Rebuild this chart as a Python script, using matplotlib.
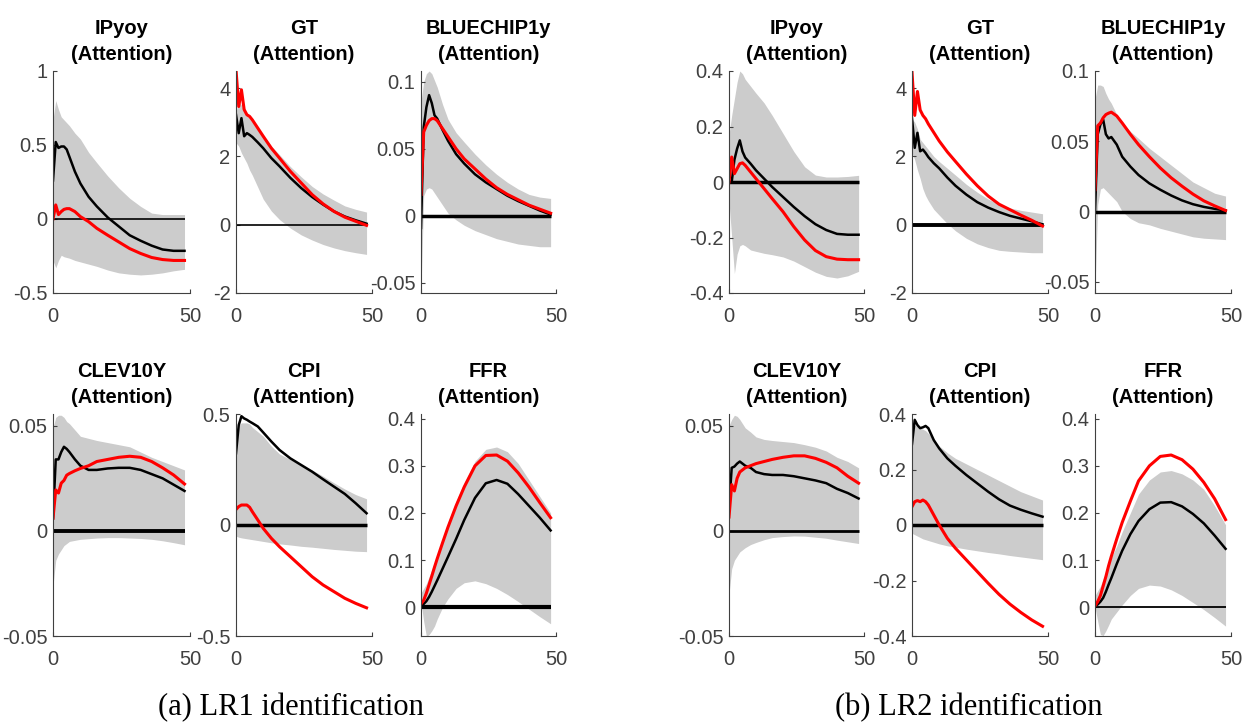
import numpy as np
import matplotlib.pyplot as plt

plt.rcParams['font.family'] = ['Liberation Sans Narrow', 'DejaVu Sans Condensed', 'Liberation Sans', 'DejaVu Sans']

# horizons used for every series
h = [0, 1, 2, 3, 4, 5, 6, 8, 10, 13, 16, 20, 24, 28, 32, 36, 40, 44, 48]

# ---------------- (a) LR1 identification ----------------
a_ipyoy_hi = [0.67, 0.8, 0.74, 0.69, 0.67, 0.65, 0.63, 0.58, 0.54, 0.45, 0.38, 0.29, 0.21, 0.14, 0.085, 0.04, 0.03, 0.03, 0.03]
a_ipyoy_lo = [-0.28, -0.33, -0.28, -0.245, -0.255, -0.26, -0.265, -0.28, -0.29, -0.305, -0.32, -0.345, -0.364, -0.373, -0.378, -0.373, -0.364, -0.35, -0.34]
a_ipyoy_k = [0.26, 0.52, 0.48, 0.49, 0.49, 0.47, 0.42, 0.32, 0.24, 0.15, 0.085, 0.01, -0.05, -0.11, -0.147, -0.18, -0.206, -0.215, -0.215]
a_ipyoy_r = [0.0, 0.095, 0.03, 0.05, 0.065, 0.07, 0.07, 0.05, 0.016, -0.018, -0.063, -0.11, -0.155, -0.2, -0.233, -0.26, -0.274, -0.28, -0.28]

a_gt_hi = [3.3, 3.6, 3.5, 3.3, 3.2, 3.1, 3.0, 2.8, 2.6, 2.3, 2.05, 1.7, 1.4, 1.12, 0.9, 0.72, 0.55, 0.45, 0.37]
a_gt_lo = [2.4, 2.3, 2.1, 1.95, 1.8, 1.6, 1.45, 1.1, 0.75, 0.4, 0.15, -0.1, -0.3, -0.45, -0.58, -0.68, -0.76, -0.82, -0.87]
a_gt_k = [3.22, 2.68, 3.12, 2.59, 2.68, 2.63, 2.57, 2.41, 2.24, 1.95, 1.71, 1.37, 1.07, 0.81, 0.59, 0.39, 0.24, 0.13, 0.03]
a_gt_r = [4.54, 3.46, 3.95, 3.37, 3.22, 3.17, 3.07, 2.83, 2.59, 2.24, 1.95, 1.56, 1.22, 0.88, 0.61, 0.39, 0.22, 0.1, -0.02]

a_blue_hi = [0.085, 0.1, 0.106, 0.108, 0.106, 0.101, 0.096, 0.083, 0.072, 0.062, 0.055, 0.046, 0.038, 0.031, 0.025, 0.02, 0.016, 0.014, 0.013]
a_blue_lo = [-0.055, 0.015, 0.02, 0.021, 0.02, 0.017, 0.014, 0.008, 0.002, -0.003, -0.007, -0.011, -0.014, -0.017, -0.019, -0.021, -0.022, -0.023, -0.023]
a_blue_k = [-0.009, 0.066, 0.081, 0.09, 0.084, 0.075, 0.0725, 0.064, 0.056, 0.046, 0.039, 0.031, 0.025, 0.02, 0.015, 0.011, 0.0075, 0.004, 0.001]
a_blue_r = [0.016, 0.0625, 0.0675, 0.071, 0.0725, 0.0725, 0.071, 0.065, 0.059, 0.05, 0.0425, 0.035, 0.0275, 0.021, 0.016, 0.012, 0.008, 0.005, 0.002]

a_clev_hi = [0.049, 0.054, 0.055, 0.055, 0.054, 0.052, 0.051, 0.048, 0.045, 0.044, 0.043, 0.042, 0.041, 0.04, 0.0375, 0.035, 0.033, 0.031, 0.029]
a_clev_lo = [-0.026, -0.014, -0.011, -0.009, -0.007, -0.006, -0.005, -0.0045, -0.004, -0.0037, -0.0034, -0.0032, -0.0032, -0.0034, -0.0036, -0.004, -0.0047, -0.0056, -0.0066]
a_clev_k = [0.006, 0.034, 0.034, 0.0375, 0.04, 0.039, 0.0375, 0.034, 0.031, 0.029, 0.029, 0.0297, 0.03, 0.03, 0.029, 0.027, 0.025, 0.022, 0.019]
a_clev_r = [0.006, 0.0195, 0.018, 0.0227, 0.024, 0.0265, 0.0273, 0.0286, 0.0297, 0.031, 0.033, 0.034, 0.035, 0.0355, 0.035, 0.033, 0.03, 0.0266, 0.0223]

a_cpi_hi = [0.4, 0.45, 0.46, 0.46, 0.46, 0.455, 0.44, 0.42, 0.4, 0.355, 0.32, 0.295, 0.27, 0.248, 0.22, 0.19, 0.162, 0.137, 0.118]
a_cpi_lo = [-0.05, -0.055, -0.058, -0.06, -0.062, -0.064, -0.066, -0.07, -0.074, -0.08, -0.085, -0.09, -0.096, -0.1, -0.105, -0.11, -0.114, -0.118, -0.12]
a_cpi_k = [0.323, 0.45, 0.49, 0.48, 0.474, 0.466, 0.459, 0.444, 0.417, 0.376, 0.338, 0.3, 0.27, 0.24, 0.206, 0.173, 0.14, 0.098, 0.053]
a_cpi_r = [0.07, 0.083, 0.09, 0.09, 0.09, 0.08, 0.06, 0.023, -0.015, -0.06, -0.098, -0.143, -0.188, -0.233, -0.27, -0.3, -0.33, -0.353, -0.373]

a_ffr_hi = [0.03, 0.04, 0.05, 0.065, 0.08, 0.095, 0.11, 0.145, 0.18, 0.225, 0.265, 0.31, 0.335, 0.34, 0.33, 0.305, 0.27, 0.235, 0.2]
a_ffr_lo = [0.01, -0.03, -0.062, -0.058, -0.05, -0.04, -0.025, 0.0, 0.018, 0.04, 0.052, 0.056, 0.05, 0.04, 0.027, 0.012, -0.004, -0.02, -0.035]
a_ffr_k = [0.005, 0.007, 0.013, 0.022, 0.033, 0.045, 0.057, 0.082, 0.107, 0.145, 0.185, 0.232, 0.263, 0.27, 0.262, 0.24, 0.215, 0.19, 0.163]
a_ffr_r = [0.007, 0.015, 0.03, 0.048, 0.066, 0.085, 0.103, 0.137, 0.17, 0.215, 0.255, 0.3, 0.322, 0.323, 0.31, 0.285, 0.255, 0.222, 0.19]

# ---------------- (b) LR2 identification ----------------
b_ipyoy_hi = [0.17, 0.24, 0.3, 0.36, 0.4, 0.39, 0.37, 0.345, 0.32, 0.285, 0.24, 0.175, 0.11, 0.055, 0.025, 0.018, 0.018, 0.02, 0.024]
b_ipyoy_lo = [-0.07, -0.2, -0.33, -0.26, -0.23, -0.225, -0.23, -0.245, -0.25, -0.257, -0.262, -0.27, -0.285, -0.305, -0.325, -0.34, -0.346, -0.338, -0.322]
b_ipyoy_k = [0.0, 0.0, 0.08, 0.12, 0.15, 0.11, 0.088, 0.066, 0.042, 0.012, -0.018, -0.054, -0.09, -0.123, -0.152, -0.173, -0.187, -0.19, -0.19]
b_ipyoy_r = [0.0, 0.09, 0.03, 0.048, 0.066, 0.069, 0.06, 0.036, 0.012, -0.024, -0.06, -0.107, -0.161, -0.209, -0.247, -0.269, -0.278, -0.28, -0.28]

b_gt_hi = [3.1, 3.0, 2.8, 2.5, 2.4, 2.3, 2.2, 2.0, 1.85, 1.65, 1.45, 1.18, 0.95, 0.75, 0.6, 0.49, 0.42, 0.37, 0.32]
b_gt_lo = [2.1, 1.9, 1.6, 1.35, 1.05, 0.85, 0.7, 0.45, 0.28, 0.03, -0.18, -0.4, -0.56, -0.67, -0.75, -0.78, -0.8, -0.82, -0.82]
b_gt_k = [3.12, 2.25, 2.69, 2.15, 2.2, 2.1, 1.98, 1.8, 1.65, 1.38, 1.14, 0.88, 0.66, 0.5, 0.37, 0.26, 0.18, 0.1, 0.01]
b_gt_r = [4.47, 3.2, 3.9, 3.36, 3.2, 3.1, 2.95, 2.7, 2.45, 2.13, 1.85, 1.48, 1.14, 0.84, 0.6, 0.44, 0.28, 0.13, -0.04]

b_blue_hi = [0.08, 0.09, 0.09, 0.089, 0.084, 0.08, 0.077, 0.069, 0.063, 0.057, 0.052, 0.045, 0.039, 0.033, 0.027, 0.021, 0.017, 0.013, 0.011]
b_blue_lo = [-0.055, 0.005, 0.016, 0.017, 0.015, 0.013, 0.011, 0.007, 0.0, -0.005, -0.008, -0.0095, -0.012, -0.014, -0.016, -0.018, -0.019, -0.0195, -0.02]
b_blue_k = [0.0, 0.055, 0.062, 0.0655, 0.055, 0.052, 0.053, 0.0476, 0.039, 0.032, 0.026, 0.02, 0.0155, 0.0114, 0.0079, 0.0052, 0.0033, 0.0019, 0.0007]
b_blue_r = [0.0155, 0.061, 0.063, 0.0667, 0.069, 0.07, 0.0707, 0.068, 0.063, 0.055, 0.0476, 0.039, 0.031, 0.024, 0.018, 0.0124, 0.0076, 0.004, 0.0007]

b_clev_hi = [0.05, 0.053, 0.055, 0.0545, 0.053, 0.051, 0.049, 0.047, 0.0447, 0.0435, 0.043, 0.0425, 0.042, 0.041, 0.0398, 0.038, 0.035, 0.033, 0.03]
b_clev_lo = [-0.03, -0.018, -0.014, -0.012, -0.01, -0.009, -0.008, -0.0065, -0.0055, -0.0042, -0.0032, -0.0027, -0.0024, -0.0025, -0.003, -0.0035, -0.0044, -0.0052, -0.006]
b_clev_k = [0.011, 0.03, 0.0306, 0.032, 0.033, 0.032, 0.031, 0.03, 0.028, 0.027, 0.0266, 0.0266, 0.026, 0.025, 0.024, 0.0227, 0.02, 0.018, 0.0154]
b_clev_r = [0.0066, 0.022, 0.019, 0.025, 0.028, 0.029, 0.03, 0.031, 0.032, 0.033, 0.034, 0.035, 0.0357, 0.0357, 0.0345, 0.0326, 0.03, 0.026, 0.0227]

b_cpi_hi = [0.355, 0.36, 0.355, 0.35, 0.345, 0.34, 0.33, 0.31, 0.285, 0.26, 0.24, 0.22, 0.2, 0.18, 0.16, 0.14, 0.12, 0.105, 0.09]
b_cpi_lo = [-0.03, -0.035, -0.04, -0.045, -0.05, -0.053, -0.056, -0.062, -0.068, -0.075, -0.08, -0.087, -0.093, -0.099, -0.104, -0.11, -0.115, -0.12, -0.125]
b_cpi_k = [0.292, 0.379, 0.36, 0.349, 0.352, 0.357, 0.349, 0.306, 0.276, 0.24, 0.213, 0.18, 0.15, 0.12, 0.0925, 0.07, 0.055, 0.042, 0.03]
b_cpi_r = [0.066, 0.084, 0.088, 0.084, 0.09, 0.084, 0.072, 0.036, 0.0, -0.048, -0.084, -0.126, -0.168, -0.21, -0.25, -0.285, -0.315, -0.342, -0.365]

b_ffr_hi = [0.025, 0.035, 0.045, 0.06, 0.075, 0.09, 0.105, 0.13, 0.16, 0.2, 0.24, 0.27, 0.287, 0.29, 0.283, 0.27, 0.25, 0.215, 0.175]
b_ffr_lo = [0.0, -0.03, -0.058, -0.06, -0.05, -0.038, -0.025, -0.01, 0.005, 0.025, 0.04, 0.047, 0.045, 0.037, 0.025, 0.01, -0.005, -0.022, -0.04]
b_ffr_k = [0.003, 0.006, 0.012, 0.02, 0.033, 0.048, 0.062, 0.092, 0.12, 0.155, 0.183, 0.208, 0.222, 0.223, 0.214, 0.198, 0.178, 0.152, 0.124]
b_ffr_r = [0.003, 0.012, 0.025, 0.045, 0.065, 0.088, 0.108, 0.145, 0.18, 0.225, 0.268, 0.3, 0.32, 0.323, 0.313, 0.293, 0.265, 0.23, 0.186]

names = ["IPyoy", "GT", "BLUECHIP1y", "CLEV10Y", "CPI", "FFR"]
caps = ["(a) LR1 identification", "(b) LR2 identification"]

W, H = 1244, 723
fig = plt.figure(figsize=(W / 100, H / 100), dpi=100)

# (data, ylim, yticks, yticklabels, zero line width)
panels_a = [
    ((a_ipyoy_hi, a_ipyoy_lo, a_ipyoy_k, a_ipyoy_r), (-0.5, 1.0), [-0.5, 0, 0.5, 1], ["-0.5", "0", "0.5", "1"], 1.2),
    ((a_gt_hi, a_gt_lo, a_gt_k, a_gt_r), (-2, 4.5), [-2, 0, 2, 4], ["-2", "0", "2", "4"], 1.2),
    ((a_blue_hi, a_blue_lo, a_blue_k, a_blue_r), (-0.0575, 0.108), [-0.05, 0, 0.05, 0.1], ["-0.05", "0", "0.05", "0.1"], 2.5),
    ((a_clev_hi, a_clev_lo, a_clev_k, a_clev_r), (-0.05, 0.0556), [-0.05, 0, 0.05], ["-0.05", "0", "0.05"], 2.8),
    ((a_cpi_hi, a_cpi_lo, a_cpi_k, a_cpi_r), (-0.5, 0.5), [-0.5, 0, 0.5], ["-0.5", "0", "0.5"], 2.5),
    ((a_ffr_hi, a_ffr_lo, a_ffr_k, a_ffr_r), (-0.061, 0.41), [0, 0.1, 0.2, 0.3, 0.4], ["0", "0.1", "0.2", "0.3", "0.4"], 3.0),
]
panels_b = [
    ((b_ipyoy_hi, b_ipyoy_lo, b_ipyoy_k, b_ipyoy_r), (-0.4, 0.4), [-0.4, -0.2, 0, 0.2, 0.4], ["-0.4", "-0.2", "0", "0.2", "0.4"], 2.5),
    ((b_gt_hi, b_gt_lo, b_gt_k, b_gt_r), (-2, 4.5), [-2, 0, 2, 4], ["-2", "0", "2", "4"], 2.8),
    ((b_blue_hi, b_blue_lo, b_blue_k, b_blue_r), (-0.058, 0.1), [-0.05, 0, 0.05, 0.1], ["-0.05", "0", "0.05", "0.1"], 2.5),
    ((b_clev_hi, b_clev_lo, b_clev_k, b_clev_r), (-0.05, 0.0556), [-0.05, 0, 0.05], ["-0.05", "0", "0.05"], 2.0),
    ((b_cpi_hi, b_cpi_lo, b_cpi_k, b_cpi_r), (-0.4, 0.4), [-0.4, -0.2, 0, 0.2, 0.4], ["-0.4", "-0.2", "0", "0.2", "0.4"], 2.5),
    ((b_ffr_hi, b_ffr_lo, b_ffr_k, b_ffr_r), (-0.061, 0.41), [0, 0.1, 0.2, 0.3, 0.4], ["0", "0.1", "0.2", "0.3", "0.4"], 1.3),
]

cols_a = [(53, 190), (236, 372), (421, 556)]
cols_b = [(729, 864), (912, 1048), (1095, 1231)]
rows = [(71, 293), (414, 636)]
axcol = "#404040"

def draw(panels, cols):
    for i, (data, ylim, yt, ytl, zlw) in enumerate(panels):
        hi, lo, k, r = data
        x0, x1 = cols[i % 3]
        yt0, yb0 = rows[i // 3]
        ax = fig.add_axes([x0 / W, 1 - yb0 / H, (x1 - x0) / W, (yb0 - yt0) / H])
        ax.fill_between(h, lo, hi, color="#cccccc", lw=0)
        ax.plot([h[0], h[-1]], [0, 0], color="black", lw=zlw, solid_capstyle="butt")
        ax.plot(h, k, color="black", lw=1.8)
        ax.plot(h, r, color="red", lw=2.2)
        ax.set_xlim(0, 50)
        ax.set_ylim(*ylim)
        ax.set_xticks([0, 50])
        ax.set_xticklabels(["0", "50"])
        ax.set_yticks(yt)
        ax.set_yticklabels(ytl)
        for s in ["top", "right"]:
            ax.spines[s].set_visible(False)
        for s in ["left", "bottom"]:
            ax.spines[s].set_color(axcol)
            ax.spines[s].set_linewidth(0.8)
        ax.tick_params(axis="both", direction="in", length=3, width=0.8, color=axcol,
                       labelcolor=axcol, labelsize=14.5)
        ax.tick_params(axis="x", pad=10)
        ax.tick_params(axis="y", pad=4)
        ax.set_title(names[i] + "\n(Attention)", fontsize=14.5, fontweight="bold",
                     linespacing=1.45, pad=8)

draw(panels_a, cols_a)
draw(panels_b, cols_b)

fig.text(291 / W, 1 - 715 / H, caps[0], ha="center", va="baseline",
         family="Liberation Serif", fontsize=22)
fig.text(969 / W, 1 - 715 / H, caps[1], ha="center", va="baseline",
         family="Liberation Serif", fontsize=22)

fig.savefig("out.png", dpi=100)
